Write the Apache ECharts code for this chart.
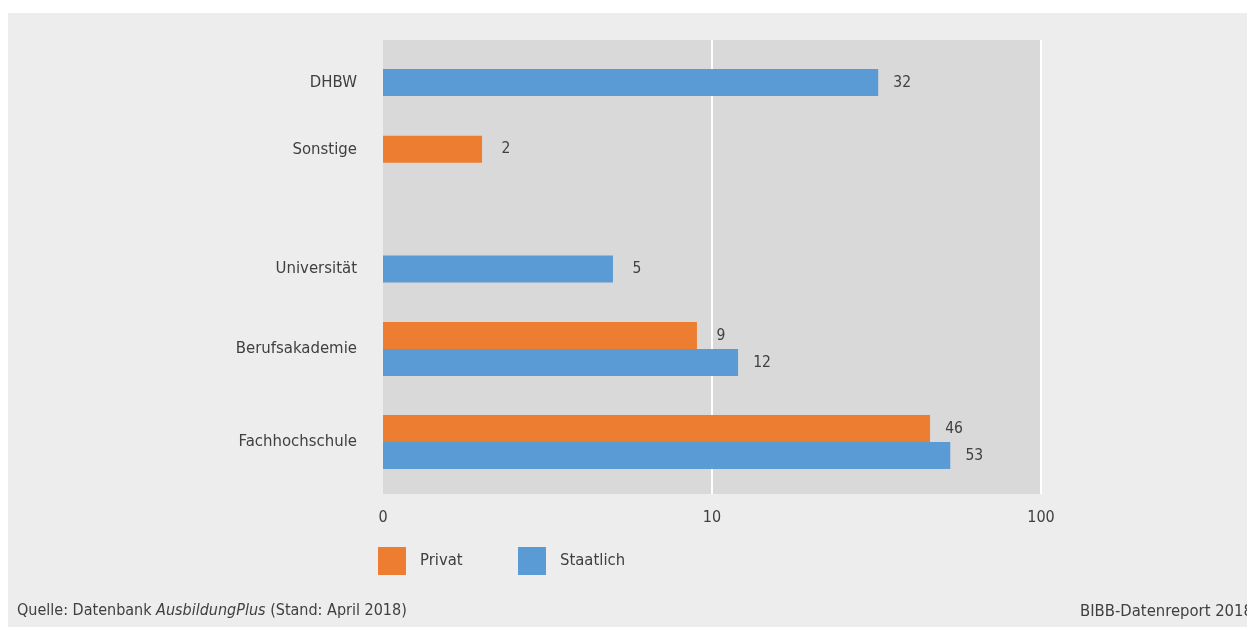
<!DOCTYPE html>
<html>
<head>
<meta charset="utf-8">
<script src="https://cdn.jsdelivr.net/npm/echarts@6/dist/echarts.min.js"></script>
<style>
  html, body { margin: 0; padding: 0; background: #ffffff; }
  #panel { position: absolute; left: 8px; top: 13px; width: 1239px; height: 614px; background: #EDEDED; }
  #chart { position: absolute; left: 0; top: 0; width: 1247px; height: 627px; }
</style>
</head>
<body>
<div id="panel"></div>
<div id="chart"></div>
<script>
// ---- data ----
const categories = ['DHBW', 'Sonstige', 'Universität', 'Berufsakademie', 'Fachhochschule'];
const privat     = [null, 2, null, 9, 46];
const staatlich  = [32, null, 5, 12, 53];
const xTicks      = [1, 10, 100];
const xTickLabels = ['0', '10', '100'];
const seriesNames = ['Privat', 'Staatlich'];
const sourceText  = ['Quelle: Datenbank ', 'AusbildungPlus', ' (Stand: April 2018)'];
const creditText  = 'BIBB-Datenreport 2018';

// ---- layout / style ----
const FONT = "'DejaVu Sans Condensed', 'DejaVu Sans', sans-serif";
const TXT = '#404040';
const COLORS = { Privat: '#ED7D31', Staatlich: '#5B9BD5' };
const PLOT = { left: 383, top: 40, width: 658, height: 454 };
const rowCenters = [82.5, 149.2, 269, 349, 442];
const ROW_H = 60;

const grids = [{ left: PLOT.left, top: PLOT.top, width: PLOT.width, height: PLOT.height,
  show: true, backgroundColor: '#D9D9D9', borderWidth: 0 }];
const xAxes = [{
  type: 'log', logBase: 10, gridIndex: 0, min: xTicks[0], max: xTicks[xTicks.length - 1],
  axisLine: { show: false }, axisTick: { show: false },
  axisLabel: { fontFamily: FONT, fontSize: 16, color: TXT, margin: 16,
    formatter: v => { const i = xTicks.indexOf(Math.round(v)); return i >= 0 ? xTickLabels[i] : ''; } },
  splitLine: { show: true, showMinLine: false, showMaxLine: true, lineStyle: { color: '#ffffff', width: 2 } },
  minorSplitLine: { show: false }
}];
const yAxes = [{ type: 'value', gridIndex: 0, show: false }];
const series = [];

categories.forEach((cat, i) => {
  const g = i + 1;
  grids.push({ left: PLOT.left, top: rowCenters[i] - ROW_H / 2, width: PLOT.width, height: ROW_H,
    show: false, borderWidth: 0 });
  xAxes.push({ type: 'log', logBase: 10, gridIndex: g, min: xTicks[0], max: xTicks[xTicks.length - 1], show: false });
  yAxes.push({ type: 'category', gridIndex: g, data: [cat], inverse: true,
    axisLine: { show: false }, axisTick: { show: false }, splitLine: { show: false },
    axisLabel: { fontFamily: FONT, fontSize: 16.6, color: TXT, margin: 26 } });
  [[seriesNames[0], privat[i]], [seriesNames[1], staatlich[i]]].forEach(([name, v]) => {
    if (v === null) return;
    series.push({
      type: 'bar', name, xAxisIndex: g, yAxisIndex: g, data: [v],
      barWidth: 27, barGap: '0%',
      itemStyle: { color: COLORS[name] },
      label: { show: true, position: 'right', distance: 24, align: 'center',
        fontFamily: FONT, fontSize: 15.5, color: TXT },
      emphasis: { disabled: true }
    });
  });
});

const legendBase = { orient: 'horizontal', itemWidth: 28, itemHeight: 28, icon: 'rect',
  textStyle: { fontFamily: FONT, fontSize: 16.5, color: TXT, padding: [0, 0, 0, 9] }, selectedMode: false };

const option = {
  backgroundColor: 'transparent',
  animation: false,
  grid: grids, xAxis: xAxes, yAxis: yAxes, series,
  legend: [
    Object.assign({}, legendBase, { left: 373, top: 542, data: [seriesNames[0]] }),
    Object.assign({}, legendBase, { left: 513, top: 542, data: [seriesNames[1]] })
  ],
  graphic: [
    { type: 'text', left: 17, top: 603, style: {
        text: '{a|' + sourceText[0] + '}{b|' + sourceText[1] + '}{a|' + sourceText[2] + '}',
        rich: { a: { fontFamily: FONT, fontSize: 16, fill: TXT },
                b: { fontFamily: FONT, fontSize: 16, fill: TXT, fontStyle: 'italic' } } } },
    { type: 'text', left: 1080, top: 603, style: { text: creditText, fontFamily: FONT, fontSize: 16.5, fill: TXT } }
  ]
};

echarts.init(document.getElementById('chart'), null, { renderer: 'canvas' }).setOption(option);
</script>
</body>
</html>
